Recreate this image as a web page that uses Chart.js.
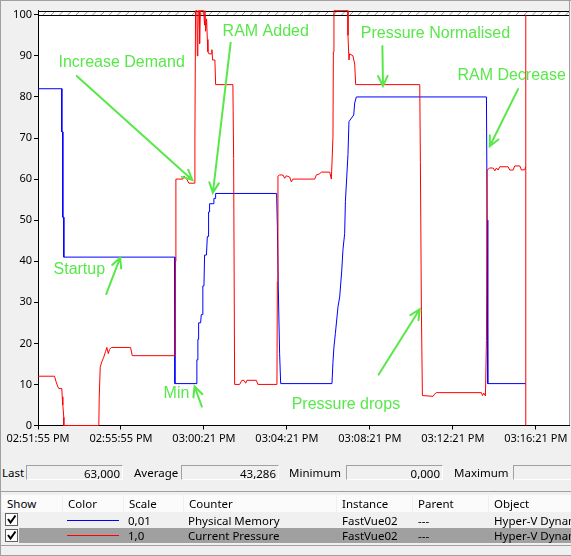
<!DOCTYPE html>
<html><head><meta charset="utf-8">
<script src="https://cdn.jsdelivr.net/npm/chart.js@4.4.0/dist/chart.umd.min.js"></script>
<style>
html,body{margin:0;padding:0;}
body{width:571px;height:556px;overflow:hidden;background:#f0f0f0;position:relative;font-family:"Noto Sans",sans-serif;font-size:11.5px;color:#000;}
#c{position:absolute;left:0;top:0;}
.a{position:absolute;white-space:nowrap;overflow:hidden;}
.hl{position:absolute;left:0;width:571px;height:1px;background:#a0a0a0;}
.box{position:absolute;top:465px;height:15px;line-height:15px;border-top:1px solid #a0a0a0;border-left:1px solid #a0a0a0;border-bottom:1px solid #fff;border-right:1px solid #fff;text-align:right;padding-right:2px;box-sizing:border-box;}
.lbl{position:absolute;top:465px;height:16px;line-height:16px;}
.hd{position:absolute;top:495px;height:17px;line-height:17px;background:#fbfbfb;padding-left:5px;box-sizing:border-box;}
.cell{position:absolute;height:15px;line-height:15px;white-space:nowrap;overflow:hidden;}
.chk{position:absolute;left:5px;width:13px;height:13px;background:#fff;border:1px solid #606060;box-sizing:border-box;}
</style></head>
<body>
<canvas id="c" width="571" height="456"></canvas>
<div class="a" style="left:0;top:0;width:1px;height:556px;background:#a0a0a0"></div>
<div class="hl" style="top:0"></div>

<div class="lbl" style="left:2px">Last</div>
<div class="box" style="left:26px;width:97px">63,000</div>
<div class="lbl" style="left:134px">Average</div>
<div class="box" style="left:181px;width:98px">43,286</div>
<div class="lbl" style="left:289px">Minimum</div>
<div class="box" style="left:346px;width:97px">0,000</div>
<div class="lbl" style="left:454px">Maximum</div>
<div class="box" style="left:513px;width:70px"></div>

<div class="hl" style="top:491px"></div>
<div class="hd" style="left:2px;width:60px">Show</div>
<div class="hd" style="left:63px;width:60px">Color</div>
<div class="hd" style="left:124px;width:59px">Scale</div>
<div class="hd" style="left:184px;width:152px">Counter</div>
<div class="hd" style="left:337px;width:75px">Instance</div>
<div class="hd" style="left:413px;width:75px">Parent</div>
<div class="hd" style="left:489px;width:82px">Object</div>

<div class="a" style="left:19px;top:528px;width:552px;height:15px;background:#a0a0a0"></div>

<div class="chk" style="top:513px"><svg width="11" height="11" style="position:absolute;left:0;top:0"><polyline points="2,5 4.5,8.5 9.5,1.5" fill="none" stroke="#000" stroke-width="2"/></svg></div>
<div class="chk" style="top:529px"><svg width="11" height="11" style="position:absolute;left:0;top:0"><polyline points="2,5 4.5,8.5 9.5,1.5" fill="none" stroke="#000" stroke-width="2"/></svg></div>
<div class="a" style="left:67px;top:519.5px;width:52px;height:1px;background:#0000ff"></div>
<div class="a" style="left:67px;top:535px;width:52px;height:1px;background:#ff0000"></div>

<div class="cell" style="left:128px;top:513px">0,01</div>
<div class="cell" style="left:188px;top:513px">Physical Memory</div>
<div class="cell" style="left:342px;top:513px">FastVue02</div>
<div class="cell" style="left:418px;top:513px">---</div>
<div class="cell" style="left:494px;top:513px;width:77px">Hyper-V Dynamic Memory VM</div>
<div class="cell" style="left:128px;top:528px">1,0</div>
<div class="cell" style="left:188px;top:528px">Current Pressure</div>
<div class="cell" style="left:342px;top:528px">FastVue02</div>
<div class="cell" style="left:418px;top:528px">---</div>
<div class="cell" style="left:494px;top:528px;width:77px">Hyper-V Dynamic Memory VM</div>

<div class="hl" style="top:545px"></div>
<div class="hl" style="top:555px"></div>

<script>
// ---- data (x in sample units, ticks every 100 samples) ----
const xTickPositions = [0, 100, 200, 300, 400, 500, 600];
const xTickLabels = ["02:51:55 PM", "02:55:55 PM", "03:00:21 PM", "03:04:21 PM", "03:08:21 PM", "03:12:21 PM", "03:16:21 PM"];
const yTicks = [0, 10, 20, 30, 40, 50, 60, 70, 80, 90, 100];
const yMax = 101;

// Physical Memory (scale 0,01)
const memoryX = [0, 28.7, 28.7, 29.9, 29.9, 31.1, 31.1, 165, 165, 191.5, 191.5, 192.7, 192.7, 193.6, 193.6, 196, 196.8, 198, 198.7, 200, 200.8, 203, 204.1, 205, 205.6, 206.2, 206.8, 211, 212, 213.5, 214.1, 287.6, 288.5, 289.7, 291.2, 292.5, 354.3, 355.5, 356.7, 358.4, 361.6, 363.6, 366, 367.6, 369.6, 370.5, 373.6, 374.8, 380.5, 381.7, 383.7, 540.5, 541.3, 542.1, 587.9];
const memoryY = [82, 82, 71.5, 71.5, 50.7, 50.7, 41, 41, 10.2, 10.2, 16, 16, 21, 21, 25, 25, 27, 27, 34, 34, 41.5, 41.5, 46, 46, 52, 52, 54, 54, 55.3, 55.3, 56.5, 56.5, 48.4, 32.5, 17.6, 10.2, 10.2, 15.4, 19.1, 22.4, 28.9, 31.3, 37.4, 42.9, 46.7, 54.5, 66, 74, 75.6, 78.5, 80, 80, 50, 10.2, 10.2];

// Current Pressure (scale 1,0)
const pressureX = [0, 19.9, 21.9, 23.9, 25.1, 28.7, 29.2, 29.9, 31.1, 31.1, 73.3, 73.8, 75.0, 76.9, 79.0, 81.4, 83.0, 84.7, 86.2, 88.3, 111.6, 113.6, 165.0, 165.8, 166.2, 174.6, 175.8, 178.7, 181.9, 188.7, 189.1, 189.9, 191.5, 192.0, 192.7, 193.2, 194.4, 194.8, 195.6, 199.6, 200.8, 201.2, 202.0, 203.2, 204.1, 204.8, 206.0, 208.9, 209.6, 210.4, 213.2, 214.1, 234.9, 235.8, 237.0, 243.0, 245.8, 248.2, 250.3, 251.8, 263.1, 265.1, 288.0, 288.5, 289.2, 291.2, 295.2, 297.3, 299.3, 303.3, 305.4, 307.3, 333.5, 335.5, 339.5, 341.5, 351.6, 353.6, 354.3, 355.5, 356.0, 356.7, 373.6, 373.6, 374.8, 375.6, 379.6, 381.7, 382.9, 460.1, 460.9, 462.1, 463.3, 476.1, 478.2, 480.2, 534.5, 535.7, 537.3, 539.3, 540.5, 541.3, 544.5, 548.5, 550.6, 552.6, 554.5, 556.6, 566.6, 568.6, 572.6, 574.6, 580.7, 582.7, 586.7, 587.9];
const pressureY = [12, 12, 10.6, 9.4, 9, 9, 7, 5, 2, 0, 0, 6.9, 14.2, 15.5, 16.5, 18, 19, 17.5, 18.5, 19, 19, 17, 17, 40, 60, 60, 60.7, 60.2, 59, 59, 69.5, 101, 101, 90, 96, 101, 101, 93, 101, 101, 97.5, 101, 96, 99, 94, 91, 90.5, 90.5, 91.5, 89, 89, 83, 83, 65, 10, 10, 11, 11, 10.3, 11, 11, 10, 10, 35, 60.7, 61, 61, 60.2, 60.8, 60.5, 59.3, 60, 60, 61, 61.3, 61.7, 61.7, 60, 60, 70.3, 91, 101, 101, 95, 89, 90.5, 90, 88, 83, 83, 64, 28, 7.3, 7.1, 7.7, 8, 8, 7.3, 7.9, 7.2, 20.7, 62.2, 62.7, 62.7, 62, 62.7, 62.2, 63, 63, 62.2, 62.2, 63.2, 63.2, 62.2, 62.3, 63];

// current-position time bar
const timeBarX = 587.9;
const timeBarY = [0, 100];

// ---- annotations (data coordinates) ----
const noteTexts = ["Increase Demand", "RAM Added", "Pressure Normalised", "RAM Decrease", "Startup", "Min", "Pressure drops"];
const noteX = [24.7, 222.5, 389, 505.5, 18.7, 151.4, 305.7];
const noteY = [88.3, 95.9, 95.4, 85.2, 38.0, 7.8, 5.1];
const arrowFromX = [46.7, 232.2, 415.1, 578.6, 82.2, 197.5, 410.6];
const arrowFromY = [85.1, 93.2, 92.4, 81.9, 32.0, 4.6, 12.4];
const arrowToX = [186.0, 210.8, 415.8, 544.5, 99.1, 188.7, 460.1];
const arrowToY = [59.8, 56.7, 82.7, 68.0, 40.9, 9.5, 28.3];

const GREEN = '#58e84a';

const framePlugin = {
  id: 'frame',
  beforeDraw(chart) {
    const {ctx, chartArea: a, scales: {y}} = chart;
    ctx.save();
    ctx.fillStyle = '#f0f0f0';
    ctx.fillRect(0, 0, chart.width, chart.height);
    ctx.fillStyle = '#ffffff';
    ctx.fillRect(a.left, a.top, a.right - a.left, a.bottom - a.top);
    const yTop = Math.round(y.getPixelForValue(yMax)) + 0.5;
    const y100 = Math.round(y.getPixelForValue(100)) + 0.5;
    ctx.save();
    ctx.beginPath();
    ctx.rect(a.left, yTop, a.right - a.left, y100 - yTop);
    ctx.clip();
    ctx.beginPath();
    ctx.strokeStyle = '#909090';
    ctx.lineWidth = 1;
    const h = y100 - yTop;
    for (let x = a.left - h; x < a.right + h; x += 8.3) {
      ctx.moveTo(x, y100);
      ctx.lineTo(x + h, yTop);
    }
    ctx.stroke();
    ctx.restore();
    ctx.beginPath();
    ctx.strokeStyle = '#000';
    ctx.moveTo(a.left, yTop); ctx.lineTo(a.right, yTop);
    ctx.moveTo(a.left, y100); ctx.lineTo(a.right, y100);
    ctx.stroke();
    ctx.beginPath();
    ctx.strokeStyle = '#a0a0a0';
    ctx.moveTo(Math.round(a.right) + 0.5, 0); ctx.lineTo(Math.round(a.right) + 0.5, a.bottom);
    ctx.stroke();
    ctx.restore();
  },
  afterDatasetsDraw(chart) {
    const {ctx, scales: {x, y}} = chart;
    ctx.save();
    ctx.fillStyle = GREEN;
    ctx.strokeStyle = GREEN;
    ctx.font = '16px "Liberation Sans", Arial, sans-serif';
    ctx.textBaseline = 'middle';
    ctx.textAlign = 'left';
    noteTexts.forEach((t, i) => {
      ctx.fillText(t, x.getPixelForValue(noteX[i]), y.getPixelForValue(noteY[i]));
    });
    ctx.lineWidth = 2;
    ctx.lineCap = 'round';
    arrowFromX.forEach((fx, i) => {
      const x1 = x.getPixelForValue(fx), y1 = y.getPixelForValue(arrowFromY[i]);
      const x2 = x.getPixelForValue(arrowToX[i]), y2 = y.getPixelForValue(arrowToY[i]);
      const ang = Math.atan2(y2 - y1, x2 - x1);
      const L = 11, spread = 0.45;
      ctx.beginPath();
      ctx.moveTo(x1, y1); ctx.lineTo(x2, y2);
      ctx.moveTo(x2 - L * Math.cos(ang - spread), y2 - L * Math.sin(ang - spread));
      ctx.lineTo(x2, y2);
      ctx.lineTo(x2 - L * Math.cos(ang + spread), y2 - L * Math.sin(ang + spread));
      ctx.stroke();
    });
    ctx.restore();
  }
};

const tickFont = {family: '"Noto Sans", sans-serif', size: 11};

new Chart(document.getElementById('c'), {
  type: 'line',
  data: {
    datasets: [
      {label: 'Current Pressure', data: pressureX.map((v, i) => ({x: v, y: pressureY[i]})), borderColor: '#ff0000', borderWidth: 1, pointRadius: 0, tension: 0, order: 0, clip: false},
      {label: 'Time bar', data: timeBarY.map(v => ({x: timeBarX, y: v})), borderColor: '#ff0000', borderWidth: 1, pointRadius: 0, order: 0, clip: false},
      {label: 'Physical Memory', data: memoryX.map((v, i) => ({x: v, y: memoryY[i]})), borderColor: '#0000ff', borderWidth: 1, pointRadius: 0, tension: 0, order: 1, clip: false}
    ]
  },
  options: {
    responsive: false,
    animation: false,
    events: [],
    layout: {padding: {top: 10.7, right: 2, left: 0, bottom: 0}},
    plugins: {legend: {display: false}, tooltip: {enabled: false}},
    scales: {
      x: {
        type: 'linear', min: 0, max: 640, z: 1,
        border: {display: true, color: '#000', width: 1},
        grid: {drawOnChartArea: false, drawTicks: true, tickLength: 4, color: '#000'},
        ticks: {color: '#000', font: tickFont, padding: 3, maxRotation: 0, autoSkip: false,
          callback: (v) => { const k = xTickPositions.indexOf(v); return k >= 0 ? xTickLabels[k] : ''; }},
        afterBuildTicks: (s) => { s.ticks = xTickPositions.map(v => ({value: v})); },
        afterFit: (s) => { s.height = 30.5; s.paddingLeft = 0; s.paddingRight = 0; }
      },
      y: {
        type: 'linear', min: 0, max: yMax, z: 1,
        border: {display: true, color: '#000', width: 1},
        grid: {drawOnChartArea: false, drawTicks: true, tickLength: 4, color: '#000'},
        ticks: {color: '#000', font: tickFont, padding: 2},
        afterBuildTicks: (s) => { s.ticks = yTicks.map(v => ({value: v})); },
        afterFit: (s) => { s.width = 38; s.paddingTop = 0; s.paddingBottom = 0; }
      }
    }
  },
  plugins: [framePlugin]
});
</script>
</body></html>
